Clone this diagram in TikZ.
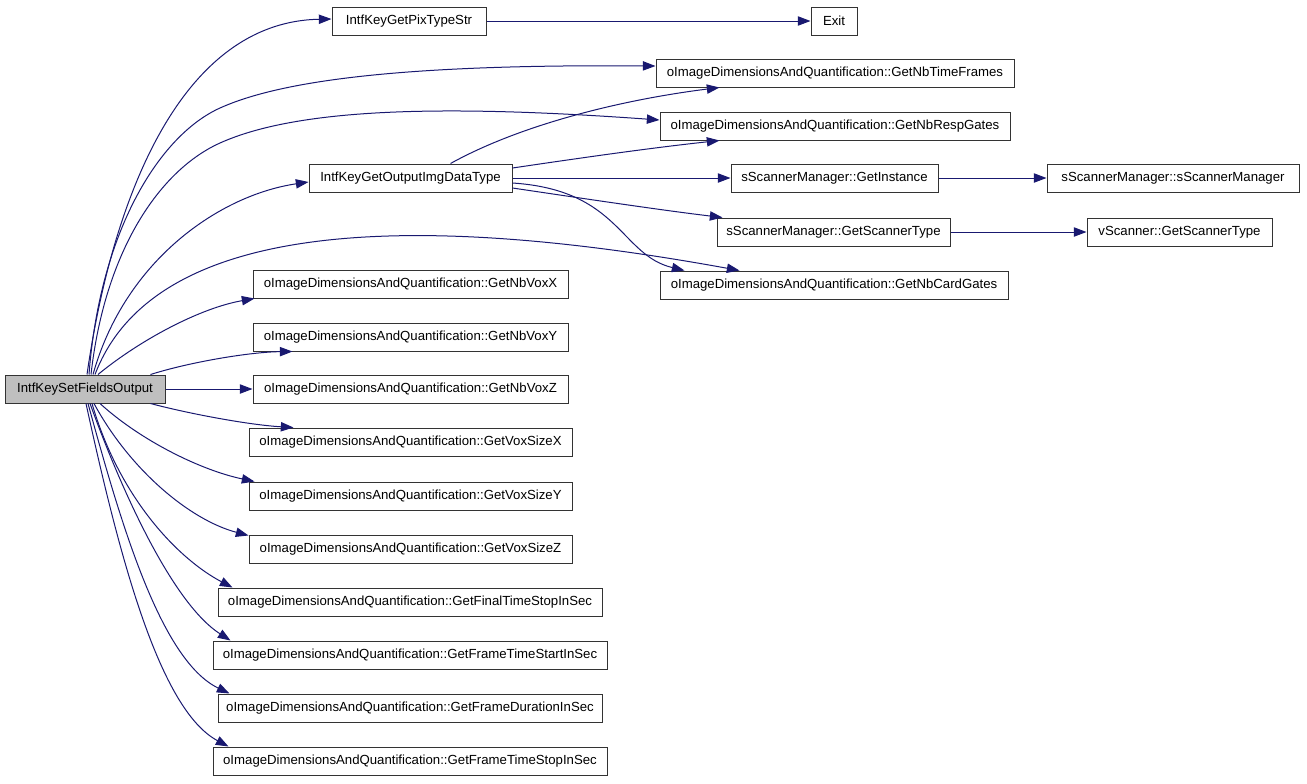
\documentclass[tikz,border=0pt]{standalone}
\usepackage{fontspec}
\setmainfont{Liberation Sans}
\usetikzlibrary{arrows.meta,calc}
\definecolor{edgeblue}{HTML}{191970}
\definecolor{rootgray}{HTML}{BFBFBF}
\begin{document}
\begin{tikzpicture}[x=0.75pt,y=-0.75pt,
  box/.style={draw=black!80,line width=0.75pt,minimum height=21pt,inner sep=0pt,font=\fontsize{9.9}{12}\selectfont,fill=white},
  rootbox/.style={box,fill=rootgray},
  edge/.style={draw=edgeblue,line width=0.75pt,-{Triangle[length=9.5pt,width=7pt]}}]
\useasboundingbox (0,0) rectangle (1307,783);
% nodes
\node[rootbox,minimum width=120pt] (root) at (85,389) {IntfKeySetFieldsOutput};
\node[box,minimum width=115.5pt] (pix) at (409,21) {IntfKeyGetPixTypeStr};
\node[box,minimum width=34.5pt] (exit) at (834,21) {Exit};
\node[box,minimum width=268.5pt] (tf) at (835,73) {oImageDimensionsAndQuantification::GetNbTimeFrames};
\node[box,minimum width=262.5pt] (rg) at (835,126) {oImageDimensionsAndQuantification::GetNbRespGates};
\node[box,minimum width=152.25pt] (oi) at (410.5,178) {IntfKeyGetOutputImgDataType};
\node[box,minimum width=155.25pt] (gi) at (834.5,178) {sScannerManager::GetInstance};
\node[box,minimum width=189pt] (ssm) at (1173,178) {sScannerManager::sScannerManager};
\node[box,minimum width=174.75pt] (gst) at (833.5,232) {sScannerManager::GetScannerType};
\node[box,minimum width=138.75pt] (vst) at (1179.5,232) {vScanner::GetScannerType};
\node[box,minimum width=261pt] (cg) at (834,285) {oImageDimensionsAndQuantification::GetNbCardGates};
\node[box,minimum width=236.25pt] (nbx) at (410.5,284) {oImageDimensionsAndQuantification::GetNbVoxX};
\node[box,minimum width=236.25pt] (nby) at (410.5,337) {oImageDimensionsAndQuantification::GetNbVoxY};
\node[box,minimum width=236.25pt] (nbz) at (410.5,389) {oImageDimensionsAndQuantification::GetNbVoxZ};
\node[box,minimum width=242.25pt] (vsx) at (410.5,442) {oImageDimensionsAndQuantification::GetVoxSizeX};
\node[box,minimum width=242.25pt] (vsy) at (410.5,496) {oImageDimensionsAndQuantification::GetVoxSizeY};
\node[box,minimum width=242.25pt] (vsz) at (410.5,549) {oImageDimensionsAndQuantification::GetVoxSizeZ};
\node[box,minimum width=288pt] (fts) at (410,602) {oImageDimensionsAndQuantification::GetFinalTimeStopInSec};
\node[box,minimum width=295.5pt] (fst) at (410,655) {oImageDimensionsAndQuantification::GetFrameTimeStartInSec};
\node[box,minimum width=288pt] (fd) at (410,708) {oImageDimensionsAndQuantification::GetFrameDurationInSec};
\node[box,minimum width=295.5pt] (ftst) at (410,761) {oImageDimensionsAndQuantification::GetFrameTimeStopInSec};
% edges from root
\draw[edge] ($(root.north)+(2,0)$) .. controls (112,200) and (180,22) .. ($(pix.west)+(0,-2)$);
\draw[edge] ($(root.north)+(4,0)$) .. controls (100,230) and (160,135) .. (220,108)
   .. controls (280,81) and (400,64) .. ($(tf.west)+(0,-7)$);
\draw[edge] ($(root.north)+(6,0)$) .. controls (105,250) and (160,170) .. (220,143)
   .. controls (300,107) and (450,105) .. ($(rg.west)+(0,-6)$);
\draw[edge] ($(root.north)+(8,0)$) .. controls (125,260) and (220,195) .. ($(oi.west)+(0,4)$);
\draw[edge] ($(root.north)+(10,0)$) .. controls (150,230) and (380,205) .. ($(cg.north west)+(80,0)$);
\draw[edge] ($(root.north)+(13,0)$) .. controls (140,340) and (200,308) .. ($(nbx.south west)+(2,0)$);
\draw[edge] ($(root.north east)+(-15,0)$) .. controls (190,362) and (250,352) .. ($(nby.south west)+(40,0)$);
\draw[edge] (root.east) -- (nbz.west);
\draw[edge] ($(root.south east)+(-15,0)$) .. controls (190,414) and (250,425) .. ($(vsx.north west)+(45,0)$);
\draw[edge] ($(root.south)+(15,0)$) .. controls (140,440) and (200,470) .. ($(vsy.north west)+(6,0)$);
\draw[edge] ($(root.south)+(9,0)$) .. controls (130,470) and (190,520) .. ($(vsz.north west)+(0,1)$);
\draw[edge] ($(root.south)+(7,0)$) .. controls (120,500) and (180,560) .. ($(fts.north west)+(15,0)$);
\draw[edge] ($(root.south)+(5,0)$) .. controls (125,500) and (175,605) .. ($(fst.north west)+(18,0)$);
\draw[edge] ($(root.south)+(3,0)$) .. controls (120,520) and (160,660) .. ($(fd.north west)+(12,0)$);
\draw[edge] ($(root.south)+(1,0)$) .. controls (120,560) and (160,710) .. ($(ftst.north west)+(16,0)$);
% other edges
\draw[edge] (pix.east) -- (exit.west);
\draw[edge] ($(oi.north)+(40,0)$) .. controls (520,125) and (620,100) .. ($(tf.south west)+(64,0)$);
\draw[edge] ($(oi.east)+(0,-10)$) .. controls (580,158) and (650,148) .. ($(rg.south west)+(60,0)$);
\draw[edge] (oi.east) -- (gi.west);
\draw[edge] ($(oi.east)+(0,10)$) .. controls (580,198) and (660,210) .. ($(gst.north west)+(6,0)$);
\draw[edge] ($(oi.east)+(0,5)$) .. controls (620,190) and (620,255) .. ($(cg.north west)+(25,0)$);
\draw[edge] (gi.east) -- (ssm.west);
\draw[edge] (gst.east) -- (vst.west);
\end{tikzpicture}
\end{document}
